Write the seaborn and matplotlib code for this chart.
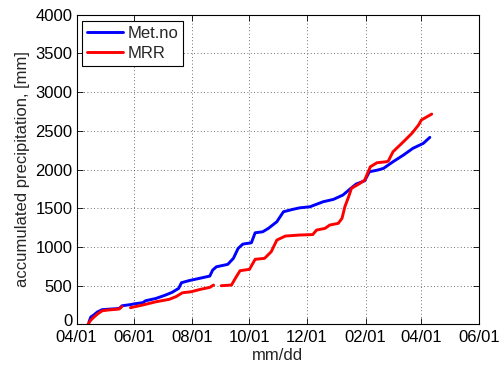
import matplotlib
matplotlib.use("Agg")
import matplotlib.pyplot as plt
import matplotlib.dates as mdates
import matplotlib.transforms as mtransforms
from matplotlib.lines import Line2D
import numpy as np
import pandas as pd
import seaborn as sns

# Campaign start; series are indexed by day offset from it
start_date = "2010-04-01"

metno_days = [13, 15, 18, 22, 27, 33, 45, 48, 57, 61, 70, 73, 84, 94, 101, 108,
              111, 119, 130, 141, 144, 148, 160, 166, 171, 176, 185, 189, 197,
              203, 212, 219, 229, 236, 247, 261, 272, 282, 289, 296, 305, 310,
              319, 325, 335, 346, 356, 367, 374]
metno_mm = [30, 95, 120, 160, 190, 195, 205, 240, 255, 265, 280, 305, 335, 378,
            413, 465, 538, 565, 594, 624, 701, 744, 775, 853, 982, 1037, 1054,
            1183, 1196, 1240, 1326, 1455, 1486, 1505, 1519, 1584, 1615, 1671,
            1744, 1813, 1855, 1972, 1994, 2016, 2101, 2187, 2274, 2338, 2416]

# MRR record has two outages; each list is one continuous segment
mrr_days = [
    [12, 15, 18, 22, 27, 33, 45, 48],
    [57, 70, 84, 98, 105, 112, 121, 131, 141, 145],
    [153, 164, 168, 173, 183, 189, 199, 206, 212, 221, 236, 250, 254, 263,
     268, 277, 281, 284, 288, 291, 300, 305, 311, 318, 328, 330, 335, 346,
     355, 362, 365, 376],
]
mrr_mm = [
    [0, 55, 90, 133, 175, 185, 198, 230],
    [215, 250, 292, 323, 357, 408, 421, 452, 478, 508],
    [499, 508, 594, 693, 711, 840, 853, 938, 1089, 1141, 1154, 1160, 1218,
     1240, 1283, 1305, 1370, 1519, 1649, 1757, 1822, 1864, 2036, 2088, 2101,
     2110, 2230, 2359, 2468, 2575, 2640, 2717],
]

series_names = ["Met.no", "MRR"]
series_colors = [(0, 0, 1), (1, 0, 0)]

sns.set_theme(style="white")
plt.rcParams["font.family"] = ["Liberation Sans", "DejaVu Sans"]
plt.rcParams["font.size"] = 12

t0 = pd.Timestamp(start_date)
metno = pd.DataFrame({"date": t0 + pd.to_timedelta(metno_days, unit="D"),
                      "mm": metno_mm})
mrr = pd.concat([
    pd.DataFrame({"date": t0 + pd.to_timedelta(d, unit="D"), "mm": v, "seg": i})
    for i, (d, v) in enumerate(zip(mrr_days, mrr_mm))
], ignore_index=True)

fig = plt.figure(figsize=(5.01, 3.69), dpi=100)
ax = fig.add_axes([0.153, 0.121, 0.803, 0.839])

lw = 2.1
sns.lineplot(data=metno, x="date", y="mm", color=series_colors[0],
             linewidth=lw, ax=ax, legend=False)
sns.lineplot(data=mrr, x="date", y="mm", units="seg", estimator=None,
             color=series_colors[1], linewidth=lw, ax=ax, legend=False)

ax.set_xlim(pd.Timestamp("2010-04-01"), pd.Timestamp("2011-06-01"))
ax.set_ylim(0, 4000)
ax.set_yticks(np.arange(0, 4001, 500))
ax.xaxis.set_major_locator(mdates.MonthLocator(bymonth=[2, 4, 6, 8, 10, 12]))
ax.xaxis.set_major_formatter(mdates.DateFormatter("%m/%d"))

ax.set_xlabel("mm/dd", fontsize=12, labelpad=2)
ax.set_ylabel("accumulated precipitation, [mm]", fontsize=12, labelpad=4)

ax.grid(True, linestyle=(0, (1, 3)), color="#444444", linewidth=0.6)
ax.tick_params(direction="in", length=4, width=0.6, top=True, right=True,
               bottom=True, left=True, labelsize=12, colors="black")
ax.tick_params(axis="x", pad=4)
ax.tick_params(axis="y", pad=3)
for s in ax.spines.values():
    s.set_color("black")
    s.set_linewidth(0.8)

# Lift the "0" label a little so it clears the first date label
fig.canvas.draw()
zero_label = ax.get_yticklabels()[0]
zero_label.set_transform(zero_label.get_transform() +
                         mtransforms.ScaledTranslation(0, 4 / 100,
                                                       fig.dpi_scale_trans))

handles = [Line2D([], [], color=c, linewidth=lw) for c in series_colors]
leg = ax.legend(handles, series_names, loc="upper left",
                bbox_to_anchor=(0.0, 1.0), fontsize=12, frameon=True,
                fancybox=False, edgecolor="black", framealpha=1,
                handlelength=2.15, borderpad=0.3, labelspacing=0.3,
                handletextpad=0.25, borderaxespad=0.35)
leg.get_frame().set_linewidth(0.8)

fig.savefig("out.png", dpi=100)
